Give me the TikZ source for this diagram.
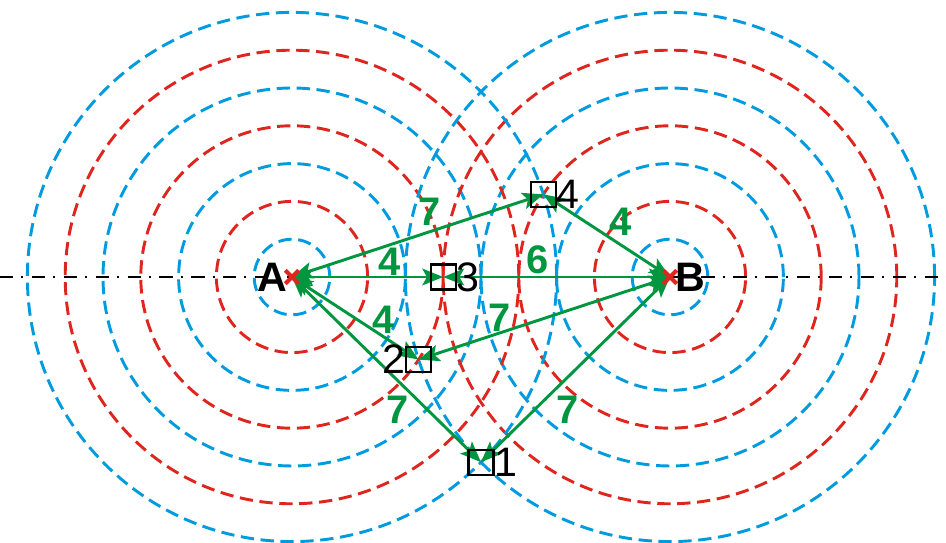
\documentclass[tikz,border=0pt]{standalone}
\usepackage{fontspec}
\setmainfont{Liberation Sans}
\usetikzlibrary{positioning,arrows.meta,shapes.misc}
\tikzset{>={Stealth[length=5.5mm,width=4.4mm,inset=1.2mm]}}
\definecolor{ringblue}{RGB}{0,155,222}
\definecolor{ringred}{RGB}{222,38,30}
\definecolor{distgreen}{RGB}{0,150,64}

\begin{document}
\begin{tikzpicture}[
    ring/.style={dashed, dash pattern=on 10pt off 5pt, line width=2.2pt},
    axis/.style={line width=1.6pt, dash pattern=on 10pt off 6pt on 1.5pt off 6.5pt},
    dist/.style={<->, distgreen, line width=2.2pt},
    distnum/.style={distgreen, font=\fontsize{30}{34}\selectfont\bfseries},
    pointbox/.style={rectangle, draw, line width=1.7pt, minimum size=0.66cm, inner sep=0pt},
    pointnum/.style={inner sep=1pt, font=\fontsize{31}{35}\selectfont},
    centername/.style={inner sep=1pt, font=\fontsize{31}{35}\selectfont\bfseries},
    xmark/.style={cross out, draw=ringred, line width=3pt, minimum size=7pt, inner sep=0pt}
]
\useasboundingbox (-7.725,-7.011) rectangle (17.302,7.328);

\coordinate (A) at (0,0);
\coordinate (B) at (10,0);

% rings round A and B
\foreach \r/\c in {1/ringblue,2/ringred,3/ringblue,4/ringred,5/ringblue,6/ringred,7/ringblue} {
    \draw[ring, \c] (A) circle (\r);
    \draw[ring, \c] (B) circle (\r);
}

\coordinate (left end) at (-7.725,0);
\coordinate (right end) at (17.302,0);
\draw[axis] (left end) -- (right end);

% measured points
\coordinate (P1) at (5,-4.899);
\coordinate (P2) at (3.35,-2.186);
\coordinate (P3) at (4,0);
\coordinate (P4) at (6.65,2.186);

\draw[dist] (A) -- (P1);
\draw[dist] (B) -- (P1);
\draw[dist] (A) -- (P2);
\draw[dist] (B) -- (P2);
\draw[dist] (A) -- (P3);
\draw[dist] (B) -- (P3);
\draw[dist] (A) -- (P4);
\draw[dist] (B) -- (P4);

\node[pointbox] (s1) at (P1) {};
\node[pointbox] (s2) at (P2) {};
\node[pointbox] (s3) at (P3) {};
\node[pointbox] (s4) at (P4) {};
\node[pointnum, right=-1.5pt of s1] (n1) {1};
\node[pointnum, left=-1.5pt of s2] (n2) {2};
\node[pointnum, right=-1.5pt of s3] (n3) {3};
\node[pointnum, right=-1.5pt of s4] (n4) {4};

\node[xmark] (xA) at (A) {};
\node[xmark] (xB) at (B) {};
\node[centername, left=0.08cm of A] (lA) {A};
\node[centername, right=0.1cm of B] (lB) {B};

% distances in rings
\node[distnum] (d4) at (3.65,1.72) {7};
\node[distnum] (d3a) at (2.59,0.40) {4};
\node[distnum] (d3b) at (6.51,0.45) {6};
\node[distnum] (d4b) at (8.70,1.46) {4};
\node[distnum] (d2a) at (2.41,-1.14) {4};
\node[distnum] (d2b) at (5.50,-1.08) {7};
\node[distnum] (d1a) at (2.80,-3.52) {7};
\node[distnum] (d1b) at (7.28,-3.52) {7};
\end{tikzpicture}
\end{document}
